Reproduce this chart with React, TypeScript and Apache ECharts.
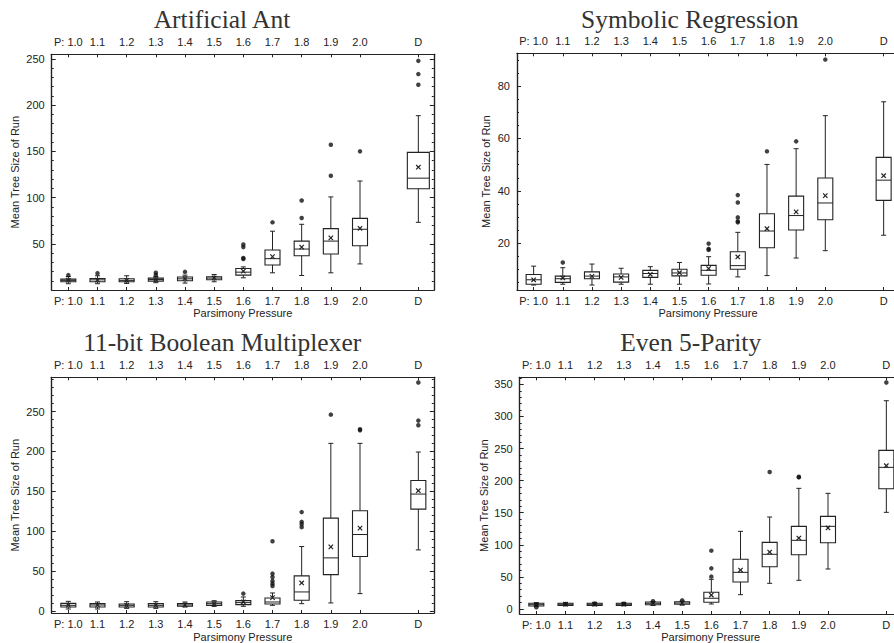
import React, { useEffect, useRef } from 'react';
import * as echarts from 'echarts';

// ---------- categories ----------
const categories = ['P: 1.0', '1.1', '1.2', '1.3', '1.4', '1.5', '1.6', '1.7', '1.8', '1.9', '2.0', 'D'];
// slot on the x scale of each category (D is set apart by one empty slot)
const slots = [0, 1, 2, 3, 4, 5, 6, 7, 8, 9, 10, 12];

// ---------- Artificial Ant ----------
const antLow = [6.8, 6.8, 7.1, 7.9, 7.5, 8.9, 13.2, 18.6, 15.7, 18.6, 28.2, 73.2];
const antQ1 = [8.9, 8.9, 8.9, 9.6, 10.0, 11.1, 16.1, 27.1, 37.1, 38.9, 47.9, 109.6];
const antMed = [10.4, 11.0, 10.4, 11.4, 12.1, 12.9, 19.3, 33.9, 44.3, 52.9, 65.7, 121.0];
const antQ3 = [11.8, 12.5, 12.1, 12.9, 14.0, 14.3, 23.2, 43.2, 52.9, 66.4, 77.5, 148.9];
const antHigh = [14.6, 15.4, 15.4, 14.6, 16.1, 16.8, 25.0, 63.6, 71.1, 100.7, 117.9, 188.6];
const antMean = [10.6, 10.8, 10.5, 11.3, 12.4, 13.0, 20.4, 36.1, 46.4, 56.4, 66.8, 132.9];
const antOutliers = [
  [0, 16.1], [1, 18.2], [3, 18.6], [3, 16.1], [4, 19.6], [6, 49.3], [6, 46.4], [6, 34.6], [6, 33.6],
  [7, 73.2], [8, 96.8], [8, 77.9], [9, 157.1], [9, 123.6], [10, 150.0], [11, 247.9], [11, 233.6], [11, 222.1],
];
const antYTicks = [50, 100, 150, 200, 250];

// ---------- Symbolic Regression ----------
const symLow = [4.1, 4.4, 4.1, 4.4, 4.4, 4.4, 4.5, 7.2, 7.7, 14.4, 17.2, 23.1];
const symQ1 = [4.4, 5.1, 6.5, 5.2, 7.0, 7.6, 7.8, 10.1, 18.3, 25.1, 29.0, 36.4];
const symMed = [6.1, 6.5, 7.5, 7.2, 8.5, 8.7, 9.7, 11.5, 24.7, 30.6, 35.4, 44.1];
const symQ3 = [8.1, 7.5, 9.1, 8.3, 9.7, 10.1, 11.6, 16.8, 31.3, 38.0, 44.9, 52.8];
const symHigh = [11.3, 10.7, 12.1, 10.5, 11.1, 12.7, 14.9, 24.2, 50.1, 56.1, 68.7, 74.0];
const symMean = [6.1, 6.8, 7.4, 7.0, 8.2, 8.8, 10.4, 14.8, 25.6, 32.0, 38.2, 45.8];
const symOutliers = [
  [1, 12.7], [6, 19.9], [6, 17.9], [6, 17.5], [7, 38.4], [7, 35.6], [7, 29.9], [7, 28.4], [7, 28.0],
  [8, 55.1], [9, 58.9], [10, 90.1],
];
const symYTicks = [20, 40, 60, 80];

// ---------- 11-bit Boolean Multiplexer ----------
const muxLow = [2.5, 2.5, 3.3, 3.3, 5.0, 5.8, 5.9, 7.1, 9.2, 10.1, 21.8, 76.6];
const muxQ1 = [5.0, 5.0, 5.0, 5.0, 5.9, 7.1, 8.0, 8.8, 13.4, 45.6, 68.3, 127.7];
const muxMed = [7.1, 7.5, 7.1, 7.1, 7.5, 9.2, 10.5, 11.3, 23.9, 66.6, 95.9, 146.6];
const muxQ3 = [9.6, 9.2, 8.8, 9.2, 9.2, 11.3, 13.0, 16.3, 44.0, 116.4, 125.6, 163.7];
const muxHigh = [12.1, 11.3, 11.7, 11.7, 11.3, 12.9, 17.6, 22.6, 80.8, 210.2, 210.2, 199.3];
const muxMean = [7.3, 7.4, 7.0, 7.2, 7.6, 9.3, 11.3, 16.8, 35.2, 80.4, 103.9, 150.8];
const muxOutliers = [
  [6, 21.8], [7, 87.5], [7, 46.9], [7, 42.7], [7, 37.7], [7, 34.3], [7, 31.4], [8, 124.0], [8, 111.8],
  [8, 108.9], [8, 105.1], [9, 246.2], [10, 227.8], [10, 226.6], [11, 286.4], [11, 238.7], [11, 232.8],
];
const muxYTicks = [0, 50, 100, 150, 200, 250];

// ---------- Even 5-Parity ----------
const parLow = [4.5, 5.0, 5.0, 5.0, 5.5, 6.0, 7.8, 22.3, 40.0, 44.7, 62.3, 150.6];
const parQ1 = [4.7, 5.5, 5.5, 5.5, 6.7, 7.3, 10.4, 42.1, 65.9, 84.6, 103.3, 187.4];
const parMed = [6.7, 7.3, 7.3, 7.3, 8.9, 9.3, 16.7, 57.1, 85.2, 107.0, 128.8, 220.7];
const parQ3 = [8.9, 8.9, 8.9, 8.9, 10.9, 11.4, 26.0, 77.4, 103.8, 128.8, 144.3, 247.1];
const parHigh = [9.5, 9.5, 9.5, 9.5, 11.5, 12.0, 46.2, 121.0, 143.3, 188.0, 180.2, 324.5];
const parMean = [7.0, 7.5, 7.5, 7.5, 9.0, 9.5, 21.8, 60.7, 88.8, 110.6, 126.2, 223.3];
const parOutliers = [
  [0, 7.5], [0, 2.6], [1, 7.8], [2, 8.5], [3, 8.2], [4, 12.0], [5, 13.5], [6, 90.9], [6, 63.3],
  [6, 50.4], [8, 213.4], [9, 205.1], [9, 206.0], [11, 353.0],
];
const parYTicks = [0, 50, 100, 150, 200, 250, 300, 350];

// ---------- layout / style ----------
const SANS = "'Liberation Sans', Arial, Helvetica, sans-serif";
const SERIF = "'Liberation Serif', 'Times New Roman', serif";
const INK = '#222';
const X_MIN = -0.57;
const X_MAX = 12.53;
const GRID_W = 382.1;

function steps(a: number, b: number, s: number) {
  const r: number[] = [];
  for (let v = a; v <= b + 1e-9; v += s) r.push(Math.round(v * 1000) / 1000);
  return r;
}

const panels = [
  {
    title: 'Artificial Ant', low: antLow, q1: antQ1, med: antMed, q3: antQ3, high: antHigh, mean: antMean,
    outliers: antOutliers, yTicks: antYTicks, yMin: 0, yMax: 255, minorStep: 10,
    left: 51.7, top: 54.3, height: 235.7, titleX: 222, titleY: 19, xNameX: 242.8, xNameY: 313.3, yNameX: 15, lastBox: 22,
  },
  {
    title: 'Symbolic Regression', low: symLow, q1: symQ1, med: symMed, q3: symQ3, high: symHigh, mean: symMean,
    outliers: symOutliers, yTicks: symYTicks, yMin: 2.2, yMax: 92.5, minorStep: 5,
    left: 517, top: 53.3, height: 236.7, titleX: 689.8, titleY: 19.5, xNameX: 708, xNameY: 313.3, yNameX: 486.3, lastBox: 15,
  },
  {
    title: '11-bit Boolean Multiplexer', low: muxLow, q1: muxQ1, med: muxMed, q3: muxQ3, high: muxHigh, mean: muxMean,
    outliers: muxOutliers, yTicks: muxYTicks, yMin: -2.5, yMax: 293, minorStep: 10,
    left: 51.7, top: 377.3, height: 235.7, titleX: 222.2, titleY: 342.8, xNameX: 242.8, xNameY: 636.7, yNameX: 15, lastBox: 15,
  },
  {
    title: 'Even 5-Parity', low: parLow, q1: parQ1, med: parMed, q3: parQ3, high: parHigh, mean: parMean,
    outliers: parOutliers, yTicks: parYTicks, yMin: -7.8, yMax: 361, minorStep: 10,
    left: 519.7, top: 377.3, height: 236.7, titleX: 690.7, titleY: 342.8, xNameX: 710.7, xNameY: 637.3, yNameX: 483.7, lastBox: 15,
  },
];

function fmtX(v: number) {
  const i = slots.indexOf(Math.round(v));
  return i >= 0 ? categories[i] : '';
}

function buildOption() {
  const grid: any[] = [];
  const xAxis: any[] = [];
  const yAxis: any[] = [];
  const series: any[] = [];
  const graphic: any[] = [];

  panels.forEach((p, i) => {
    grid.push({ left: p.left, top: p.top, width: GRID_W, height: p.height, containLabel: false });
    const axisLine = { show: true, onZero: false, lineStyle: { color: INK, width: 1.2 } };
    const tickStyle = { color: INK, width: 1 };
    const xLabel = { customValues: slots, formatter: fmtX, fontSize: 11, color: INK, fontFamily: SANS };
    const xBase = {
      type: 'value', gridIndex: i, min: X_MIN, max: X_MAX, splitLine: { show: false }, axisLine,
      axisTick: { inside: true, length: 3, customValues: slots, lineStyle: tickStyle },
    };
    xAxis.push({ ...xBase, position: 'bottom', axisLabel: { ...xLabel, margin: 5 } });
    xAxis.push({ ...xBase, position: 'top', axisLabel: { ...xLabel, margin: 7 } });

    const minor = steps(Math.ceil(p.yMin / p.minorStep) * p.minorStep, p.yMax, p.minorStep);
    const yBase = { type: 'value', gridIndex: i, min: p.yMin, max: p.yMax, splitLine: { show: false }, axisLine };
    yAxis.push({
      ...yBase, position: 'left',
      axisTick: { inside: true, length: 4, customValues: p.yTicks, lineStyle: tickStyle },
      axisLabel: { customValues: p.yTicks, margin: 7, fontSize: 11, color: INK, fontFamily: SANS },
    });
    yAxis.push({
      ...yBase, position: 'left',
      axisTick: { inside: true, length: 2, customValues: minor, lineStyle: tickStyle },
      axisLabel: { show: false },
    });
    yAxis.push({
      ...yBase, position: 'right',
      axisTick: { inside: true, length: 4, customValues: p.yTicks, lineStyle: tickStyle },
      axisLabel: { show: false },
    });
    yAxis.push({
      ...yBase, position: 'right',
      axisTick: { inside: true, length: 2, customValues: minor, lineStyle: tickStyle },
      axisLabel: { show: false },
    });

    const boxData = categories.map((_, k) => [slots[k], p.low[k], p.q1[k], p.med[k], p.q3[k], p.high[k], p.mean[k]]);
    const lastBox = p.lastBox;
    series.push({
      type: 'custom',
      xAxisIndex: i * 2,
      yAxisIndex: i * 4,
      data: boxData,
      encode: { x: 0, y: [1, 5] },
      silent: true,
      renderItem: (params: any, api: any) => {
        const x = api.value(0);
        const pt = (v: number) => api.coord([x, v]);
        const [cx, yLow] = pt(api.value(1));
        const yQ1 = pt(api.value(2))[1];
        const yMed = pt(api.value(3))[1];
        const yQ3 = pt(api.value(4))[1];
        const yHigh = pt(api.value(5))[1];
        const yMean = pt(api.value(6))[1];
        const hw = (params.dataIndex === categories.length - 1 ? lastBox : 15) / 2;
        const cap = 2.5;
        const m = 2.2;
        const ls = { stroke: INK, lineWidth: 1 };
        return {
          type: 'group',
          children: [
            { type: 'line', shape: { x1: cx, y1: yQ3, x2: cx, y2: yHigh }, style: ls },
            { type: 'line', shape: { x1: cx - cap, y1: yHigh, x2: cx + cap, y2: yHigh }, style: ls },
            { type: 'line', shape: { x1: cx, y1: yQ1, x2: cx, y2: yLow }, style: ls },
            { type: 'line', shape: { x1: cx - cap, y1: yLow, x2: cx + cap, y2: yLow }, style: ls },
            { type: 'rect', shape: { x: cx - hw, y: yQ3, width: 2 * hw, height: yQ1 - yQ3 }, style: { fill: 'none', stroke: INK, lineWidth: 1.1 } },
            { type: 'line', shape: { x1: cx - hw, y1: yMed, x2: cx + hw, y2: yMed }, style: ls },
            { type: 'line', shape: { x1: cx - m, y1: yMean - m, x2: cx + m, y2: yMean + m }, style: { stroke: INK, lineWidth: 1.2 } },
            { type: 'line', shape: { x1: cx - m, y1: yMean + m, x2: cx + m, y2: yMean - m }, style: { stroke: INK, lineWidth: 1.2 } },
          ],
        };
      },
    });
    series.push({
      type: 'scatter',
      xAxisIndex: i * 2,
      yAxisIndex: i * 4,
      silent: true,
      symbol: 'circle',
      symbolSize: 4.5,
      itemStyle: { color: '#111' },
      data: p.outliers.map(([ci, v]) => [slots[ci], v]),
    });

    graphic.push({
      type: 'text', x: p.titleX, y: p.titleY, silent: true,
      style: { text: p.title, fontSize: 25.5, fontFamily: SERIF, fill: '#333', align: 'center', verticalAlign: 'middle', textAlign: 'center', textVerticalAlign: 'middle' },
    });
    graphic.push({
      type: 'text', x: p.xNameX, y: p.xNameY, silent: true,
      style: { text: 'Parsimony Pressure', fontSize: 11, fontFamily: SANS, fill: INK, align: 'center', verticalAlign: 'middle', textAlign: 'center', textVerticalAlign: 'middle' },
    });
    graphic.push({
      type: 'text', x: p.yNameX, y: p.top + p.height / 2, rotation: Math.PI / 2, silent: true,
      style: { text: 'Mean Tree Size of Run', fontSize: 11, fontFamily: SANS, fill: INK, align: 'center', verticalAlign: 'middle', textAlign: 'center', textVerticalAlign: 'middle' },
    });
  });

  return {
    animation: false,
    backgroundColor: '#fff',
    grid,
    xAxis,
    yAxis,
    series,
    graphic,
  };
}

export default function App() {
  const ref = useRef<HTMLDivElement>(null);
  useEffect(() => {
    const chart = echarts.init(ref.current as HTMLDivElement, null, { renderer: 'svg' });
    chart.setOption(buildOption() as any);
    return () => chart.dispose();
  }, []);
  return (
    <div style={{ position: 'fixed', left: 0, top: 0, width: 894, height: 643, overflow: 'hidden', background: '#fff' }}>
      <div ref={ref} style={{ width: 920, height: 643 }} />
    </div>
  );
}
